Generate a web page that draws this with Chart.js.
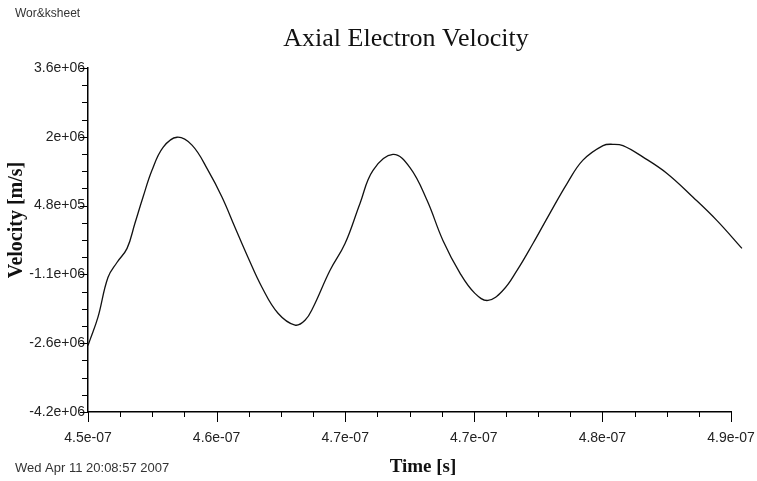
<!DOCTYPE html>
<html>
<head>
<meta charset="utf-8">
<script src="https://cdn.jsdelivr.net/npm/chart.js@4/dist/chart.umd.min.js"></script>
<style>
  body { margin: 0; background: #fff; }
  #wrap { width: 757px; height: 481px; }
</style>
</head>
<body>
<div id="wrap"><canvas id="velocityChart" width="757" height="481"></canvas></div>
<script>
// values
const timeS = [
    4.5000e-7, 4.5012e-7, 4.5062e-7, 4.5124e-7, 4.5180e-7, 4.5243e-7, 4.5292e-7, 4.5342e-7,
    4.5398e-7, 4.5467e-7, 4.5554e-7, 4.5647e-7, 4.5747e-7, 4.5834e-7, 4.5914e-7, 4.5995e-7,
    4.6082e-7, 4.6182e-7, 4.6288e-7, 4.6350e-7, 4.6400e-7, 4.6505e-7, 4.6599e-7, 4.6692e-7,
    4.6773e-7, 4.6897e-7, 4.7003e-7, 4.7109e-7, 4.7208e-7, 4.7314e-7, 4.7407e-7, 4.7488e-7,
    4.7582e-7, 4.7669e-7, 4.7768e-7, 4.7874e-7, 4.7980e-7, 4.8079e-7, 4.8204e-7, 4.8266e-7,
    4.8328e-7, 4.8453e-7, 4.8602e-7, 4.8764e-7, 4.8913e-7, 4.9068e-7
];
const velocity = [
    -2.69e6, -2.57e6, -2.05e6, -1.15e6, -0.81e6, -0.49e6, 0.08e6, 0.67e6,
    1.28e6, 1.80e6, 2.03e6, 1.85e6, 1.28e6, 0.67e6, -0.01e6, -0.69e6,
    -1.37e6, -1.96e6, -2.23e6, -2.12e6, -1.83e6, -0.99e6, -0.38e6, 0.53e6,
    1.28e6, 1.64e6, 1.34e6, 0.60e6, -0.31e6, -1.05e6, -1.51e6, -1.67e6,
    -1.44e6, -0.99e6, -0.38e6, 0.31e6, 0.98e6, 1.51e6, 1.84e6, 1.87e6,
    1.84e6, 1.58e6, 1.21e6, 0.67e6, 0.14e6, -0.49e6
];

const xTickValues = [4.5e-7, 4.58e-7, 4.66e-7, 4.74e-7, 4.82e-7, 4.9e-7];
const xTickLabels = ['4.5e-07', '4.6e-07', '4.7e-07', '4.7e-07', '4.8e-07', '4.9e-07'];
const yTickValues = [3.6e6, 2.04e6, 4.8e5, -1.08e6, -2.64e6, -4.2e6];
const yTickLabels = ['3.6e+06', '2e+06', '4.8e+05', '-1.1e+06', '-2.6e+06', '-4.2e+06'];
const minorPerMajor = 4;

// tick marks, titles and the stamps around the plot
const extrasPlugin = {
    id: 'extras',
    afterDraw(chart) {
        const ctx = chart.ctx;
        const xs = chart.scales.x;
        const ys = chart.scales.y;
        ctx.save();
        ctx.strokeStyle = '#000';
        ctx.lineWidth = 1;

        const xAxisY = ys.bottom;
        for (let i = 0; i < xTickValues.length; i++) {
            const px = Math.round(xs.getPixelForValue(xTickValues[i])) + 0.5;
            ctx.beginPath(); ctx.moveTo(px, xAxisY); ctx.lineTo(px, xAxisY + 10); ctx.stroke();
            if (i < xTickValues.length - 1) {
                const step = (xTickValues[i + 1] - xTickValues[i]) / minorPerMajor;
                for (let k = 1; k < minorPerMajor; k++) {
                    const mx = Math.round(xs.getPixelForValue(xTickValues[i] + k * step)) + 0.5;
                    ctx.beginPath(); ctx.moveTo(mx, xAxisY); ctx.lineTo(mx, xAxisY + 5); ctx.stroke();
                }
            }
        }

        const yAxisX = xs.left;
        for (let i = 0; i < yTickValues.length; i++) {
            const py = Math.round(ys.getPixelForValue(yTickValues[i])) + 0.5;
            ctx.beginPath(); ctx.moveTo(yAxisX, py); ctx.lineTo(yAxisX - 8, py); ctx.stroke();
            if (i < yTickValues.length - 1) {
                const step = (yTickValues[i + 1] - yTickValues[i]) / minorPerMajor;
                for (let k = 1; k < minorPerMajor; k++) {
                    const my = Math.round(ys.getPixelForValue(yTickValues[i] + k * step)) + 0.5;
                    ctx.beginPath(); ctx.moveTo(yAxisX, my); ctx.lineTo(yAxisX - 6, my); ctx.stroke();
                }
            }
        }

        ctx.fillStyle = '#111';
        ctx.textAlign = 'center';
        ctx.textBaseline = 'alphabetic';
        ctx.font = '26px "Liberation Serif", serif';
        ctx.fillText('Axial Electron Velocity', 406, 46);

        ctx.font = 'bold 19px "Liberation Serif", serif';
        ctx.fillText('Time [s]', 423, 472);

        ctx.save();
        ctx.translate(17, 220);
        ctx.rotate(-Math.PI / 2);
        ctx.textBaseline = 'middle';
        ctx.font = 'bold 20px "Liberation Serif", serif';
        ctx.fillText('Velocity [m/s]', 0, 0);
        ctx.restore();

        ctx.fillStyle = '#333';
        ctx.textAlign = 'left';
        ctx.textBaseline = 'middle';
        ctx.font = '12px "Liberation Sans", sans-serif';
        ctx.fillText('Wor&ksheet', 15, 14);
        ctx.font = '13px "Liberation Sans", sans-serif';
        ctx.fillText('Wed Apr 11 20:08:57 2007', 15, 468);
        ctx.restore();
    }
};

const tickFont = { family: 'Liberation Sans', size: 14 };

new Chart(document.getElementById('velocityChart'), {
    type: 'line',
    data: {
        datasets: [{
            data: timeS.map((t, i) => ({ x: t, y: velocity[i] })),
            borderColor: '#111',
            borderWidth: 1.3,
            pointRadius: 0,
            tension: 0.4,
            clip: false
        }]
    },
    options: {
        responsive: false,
        animation: false,
        layout: { padding: { top: 68, right: 26, bottom: 0, left: 0 } },
        plugins: { legend: { display: false }, tooltip: { enabled: false } },
        scales: {
            x: {
                type: 'linear',
                min: 4.5e-7,
                max: 4.9e-7,
                afterBuildTicks: s => { s.ticks = xTickValues.map(v => ({ value: v })); },
                afterFit: s => { s.height = 69; s.paddingLeft = 0; s.paddingRight = 0; },
                ticks: {
                    autoSkip: false,
                    maxRotation: 0,
                    padding: 18,
                    color: '#222',
                    font: tickFont,
                    callback: (v, i) => xTickLabels[i]
                },
                grid: { display: false, drawTicks: false },
                border: { display: true, color: '#000', width: 1.5 }
            },
            y: {
                type: 'linear',
                min: -4.2e6,
                max: 3.6e6,
                afterBuildTicks: s => { s.ticks = yTickValues.map(v => ({ value: v })); },
                afterFit: s => { s.width = 88; s.paddingTop = 0; s.paddingBottom = 0; },
                ticks: {
                    autoSkip: false,
                    padding: 3,
                    color: '#222',
                    font: tickFont,
                    callback: (v, i) => yTickLabels[i]
                },
                grid: { display: false, drawTicks: false },
                border: { display: true, color: '#000', width: 1.5 }
            }
        }
    },
    plugins: [extrasPlugin]
});
</script>
</body>
</html>
